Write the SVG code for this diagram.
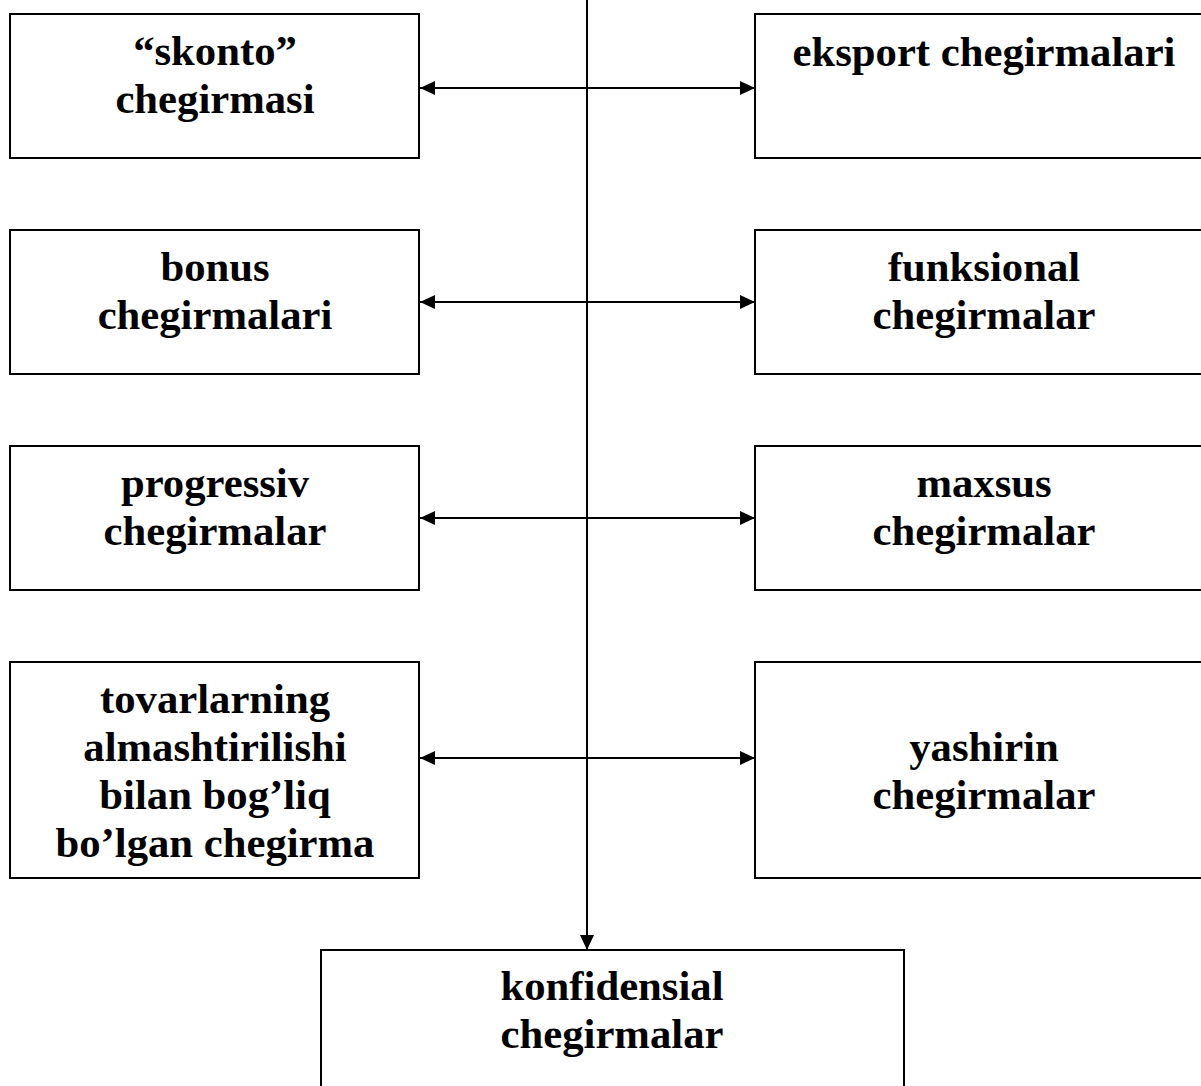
<svg xmlns="http://www.w3.org/2000/svg" width="1201" height="1086" viewBox="0 0 1201 1086">
<defs>
<marker id="ah" viewBox="0 0 15 14" refX="15" refY="7" markerWidth="15" markerHeight="14" markerUnits="userSpaceOnUse" orient="auto-start-reverse">
<path d="M0,0 L15,7 L0,14 z" fill="#000"/>
</marker>
<style>
rect.box{fill:#fff;stroke:#000;stroke-width:2}
text{font-family:"Liberation Serif","Times New Roman",serif;font-weight:bold;font-size:42.7px;text-anchor:middle;fill:#000}
.conn line{stroke:#000;stroke-width:2}
</style>
</defs>
<rect width="1201" height="1086" fill="#fff"/>
<g class="conn" id="connectors">
<line x1="587" y1="0" x2="587" y2="950" marker-end="url(#ah)"/>
<line x1="420" y1="88" x2="755" y2="88" marker-start="url(#ah)" marker-end="url(#ah)"/>
<line x1="420" y1="302" x2="755" y2="302" marker-start="url(#ah)" marker-end="url(#ah)"/>
<line x1="420" y1="518" x2="755" y2="518" marker-start="url(#ah)" marker-end="url(#ah)"/>
<line x1="420" y1="758" x2="755" y2="758" marker-start="url(#ah)" marker-end="url(#ah)"/>
</g>
<g id="skonto"><rect class="box" x="10" y="14" width="409" height="144"/><text x="215" y="65">“skonto”</text><text x="215" y="113">chegirmasi</text></g>
<g id="bonus"><rect class="box" x="10" y="230" width="409" height="144"/><text x="215" y="281">bonus</text><text x="215" y="329">chegirmalari</text></g>
<g id="progressiv"><rect class="box" x="10" y="446" width="409" height="144"/><text x="215" y="497">progressiv</text><text x="215" y="545">chegirmalar</text></g>
<g id="tovar"><rect class="box" x="10" y="662" width="409" height="216"/><text x="215" y="713">tovarlarning</text><text x="215" y="761">almashtirilishi</text><text x="215" y="809">bilan bog’liq</text><text x="215" y="857">bo’lgan chegirma</text></g>
<g id="eksport"><rect class="box" x="755" y="14" width="460" height="144"/><text x="984" y="66">eksport chegirmalari</text></g>
<g id="funksional"><rect class="box" x="755" y="230" width="460" height="144"/><text x="984" y="281">funksional</text><text x="984" y="329">chegirmalar</text></g>
<g id="maxsus"><rect class="box" x="755" y="446" width="460" height="144"/><text x="984" y="497">maxsus</text><text x="984" y="545">chegirmalar</text></g>
<g id="yashirin"><rect class="box" x="755" y="662" width="460" height="216"/><text x="984" y="761">yashirin</text><text x="984" y="809">chegirmalar</text></g>
<g id="konfidensial"><rect class="box" x="321" y="950" width="583" height="150"/><text x="612" y="1000">konfidensial</text><text x="612" y="1048">chegirmalar</text></g>
</svg>
